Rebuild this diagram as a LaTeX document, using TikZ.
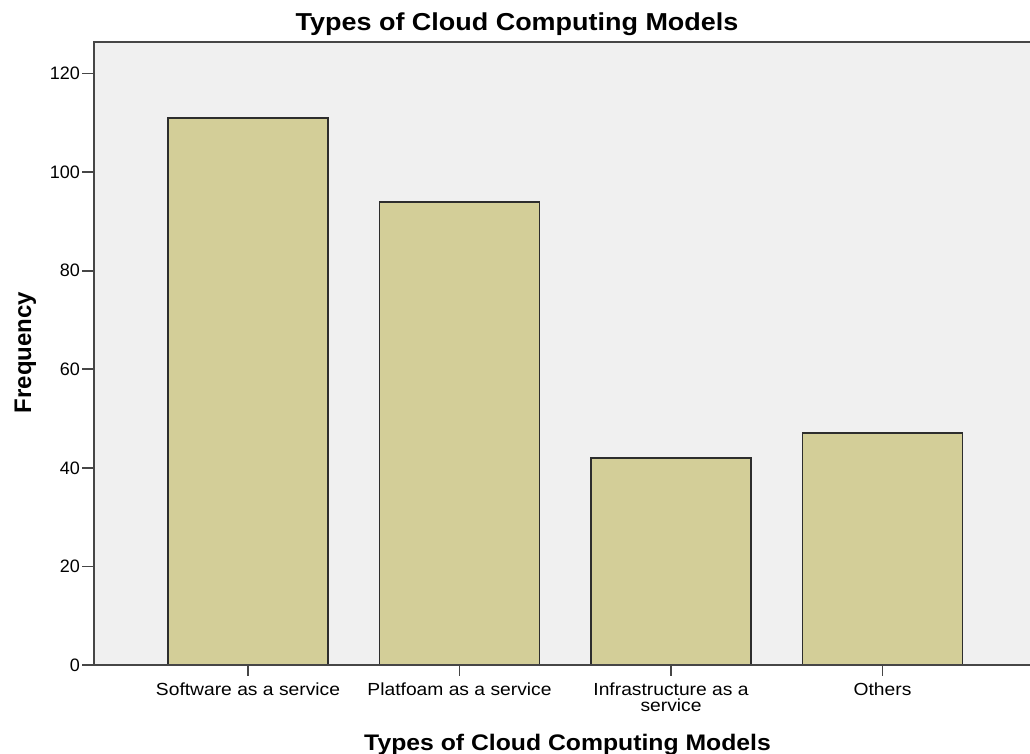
\documentclass[tikz,border=0pt]{standalone}
\usepackage{fontspec}
\usepackage{graphicx}
\setmainfont{Liberation Sans}
\definecolor{plotbg}{RGB}{240,240,240}
\definecolor{barfill}{RGB}{211,206,152}
\definecolor{barline}{RGB}{45,45,45}
\definecolor{axisline}{RGB}{70,70,70}
\newcommand{\widetext}[2]{\scalebox{#1}[1]{#2}}
\tikzset{
  barbox/.style={draw=barline, fill=barfill, line width=1.8pt},
  axisrule/.style={draw=axisline, line width=1.8pt},
  ticklabel/.style={anchor=east, inner sep=0pt, font=\fontsize{18}{20}\selectfont},
  catlabel/.style={anchor=base, inner sep=0pt, font=\fontsize{17.5}{14}\selectfont},
  titlelabel/.style={anchor=base, inner sep=0pt, font=\bfseries\fontsize{24.5}{28}\selectfont},
  axislabel/.style={anchor=base, inner sep=0pt, font=\bfseries\fontsize{22.5}{26}\selectfont},
}
\begin{document}
\begin{tikzpicture}[x=1pt, y=-1pt]
\useasboundingbox (0,0) rectangle (1030,754);
% plot area
\fill[plotbg] (94,42) rectangle (1030,665);

% bars: 4.929 px per unit, zero at y=665
\foreach \name/\xl/\val in {saas/168/111, paas/379.5/94, iaas/591/42, oth/802.5/47}{
  \path[barbox] (\xl,665) rectangle ({\xl+160},{665-4.929*\val});
}

% frame
\draw[axisrule] (1030,42) -- (94,42) -- (94,665) -- (1030,665);

% y ticks and labels
\foreach \v in {0,20,...,120}{
  \coordinate (yt\v) at (94,{665-4.929*\v});
  \draw[axisrule] (yt\v) -- ++(-12,0) coordinate (yl\v);
  \node[ticklabel] (ylab\v) at ([xshift=-2pt]yl\v) {\v};
}

% category ticks
\foreach \c/\xc in {saas/248, paas/459.5, iaas/671, oth/882.5}{
  \coordinate (ct\c) at (\xc,665);
  \draw[axisrule] (ct\c) -- ++(0,11) coordinate (cb\c);
}

% category labels
\node[catlabel] (lsaas) at (248,695) {\widetext{1.1}{Software as a service}};
\node[catlabel] (lpaas) at (459.5,695) {\widetext{1.1}{Platfoam as a service}};
\node[catlabel] (liaas) at (671,695) {\widetext{1.1}{\begin{tabular}[t]{@{}c@{}}Infrastructure as a\\service\end{tabular}}};
\node[catlabel] (loth) at (882.5,695) {\widetext{1.1}{Others}};

% titles
\node[titlelabel] (title) at (517,31) {\widetext{1.1}{Types of Cloud Computing Models}};
\node[axislabel] (xtitle) at (567.5,750) {\widetext{1.1}{Types of Cloud Computing Models}};
\node[axislabel, rotate=90, font=\bfseries\fontsize{24}{26}\selectfont] (ytitle) at (31,352.5) {Frequency};
\end{tikzpicture}
\end{document}
